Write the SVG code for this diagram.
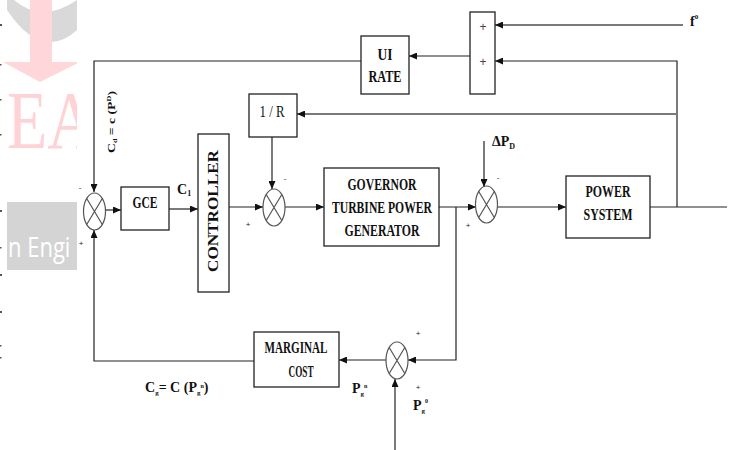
<svg xmlns="http://www.w3.org/2000/svg" width="734" height="450" viewBox="0 0 734 450">
<style>
.box{fill:#fff;stroke:#222;stroke-width:1.3}
.ln{fill:none;stroke:#222;stroke-width:1.2}
.gl{fill:none;stroke:#7a7a7a;stroke-width:2}
.sj{fill:none;stroke:#555;stroke-width:1.2}
.t{font-family:"Liberation Serif","Times New Roman",serif;font-weight:bold;font-size:17px;fill:#111}
.lab{font-family:"Liberation Serif","Times New Roman",serif;font-weight:bold;font-size:14px;fill:#111}
.sg{font-family:"Liberation Sans",Arial,sans-serif;font-size:8px;fill:#222;text-anchor:middle}
.sb{font-family:"Liberation Sans",Arial,sans-serif;font-size:12px;fill:#5a3a3a;text-anchor:middle}
</style>
<defs>
<marker id="ar" markerUnits="userSpaceOnUse" markerWidth="8" markerHeight="7" refX="8" refY="3.5" orient="auto">
<path d="M0,0 L8,3.5 L0,7 z" fill="#111"/>
</marker>
<clipPath id="wm"><rect x="0" y="0" width="77" height="280"/></clipPath>
<g id="sumx">
<ellipse cx="0" cy="0" rx="11" ry="18.5" class="sj"/>
<path d="M-7.8,-13 L7.8,13 M7.8,-13 L-7.8,13" class="sj"/>
</g>
</defs>
<rect width="734" height="450" fill="#fff"/>

<g id="watermark" clip-path="url(#wm)">
<path d="M7,0 L7,10 Q42,62 77,30 L77,0 Q42,24 14,0 Z" fill="#d9d9d9"/>
<rect x="30" y="0" width="22" height="64" fill="#ffd6d9"/>
<polygon points="3,62 80,62 40,82" fill="#ffd6d9"/>
<text x="7" y="148" font-family="Liberation Serif,serif" font-size="82" fill="#ffd3d6" textLength="88" lengthAdjust="spacingAndGlyphs">EA</text>
<rect x="7" y="202" width="75" height="68" fill="#d4d4d4"/>
<text transform="translate(8,257) scale(1,1.2)" x="0" y="0" font-family="Open Sans,Liberation Sans,sans-serif" font-size="22" fill="#fff">n Engi</text>
</g>
<g id="edge-marks" fill="#555">
<rect x="0" y="24" width="2" height="2"/><rect x="0" y="64" width="1.5" height="1.5"/><rect x="0" y="99" width="1.5" height="1.5"/>
<rect x="0" y="134" width="1.5" height="1.5"/><rect x="0" y="210" width="2" height="2"/><rect x="0" y="247" width="1.5" height="1.5"/>
<rect x="0" y="274" width="2" height="2"/><rect x="0" y="311" width="2" height="2"/><rect x="0" y="345" width="1.5" height="1.5"/>
<rect x="0" y="357" width="1.5" height="1.5"/>
</g>

<g id="connectors">
<path class="ln" d="M677,207 L677,61 L495,61" marker-end="url(#ar)"/>
<path class="gl" d="M683,25 L495,25" marker-end="url(#ar)"/>
<path class="ln" d="M470,56 L409,56" marker-end="url(#ar)"/>
<path class="ln" d="M361,61 L94,61 L94,192" marker-end="url(#ar)"/>
<path class="gl" d="M677,114 L297,114" marker-end="url(#ar)"/>
<path class="ln" d="M272,137 L272,189" marker-end="url(#ar)"/>
<path class="ln" d="M106,210 L121,210" marker-end="url(#ar)"/>
<path class="ln" d="M169,209 L198,209" marker-end="url(#ar)"/>
<path class="ln" d="M229,207 L263,207" marker-end="url(#ar)"/>
<path class="ln" d="M285,207 L324,207" marker-end="url(#ar)"/>
<path class="ln" d="M439,207 L476,207" marker-end="url(#ar)"/>
<path class="ln" d="M484,141 L484,187" marker-end="url(#ar)"/>
<path class="ln" d="M497,207 L566,207" marker-end="url(#ar)"/>
<path class="ln" d="M650,207 L727,207"/>
<path class="ln" d="M456,207 L456,360 L408,360" marker-end="url(#ar)"/>
<path class="gl" d="M395,450 L395,379" marker-end="url(#ar)"/>
<path class="ln" d="M386,360 L339,360" marker-end="url(#ar)"/>
<path class="ln" d="M254,361 L94,361 L94,230" marker-end="url(#ar)"/>
</g>

<g id="sum-box">
<rect class="box" x="470" y="12" width="25" height="82"/>
<text class="sb" x="483" y="31">+</text>
<text class="sb" x="483" y="66">+</text>
</g>
<g id="ui-rate">
<rect class="box" x="361" y="36" width="48" height="58"/>
<text class="t" x="385" y="60" text-anchor="middle" textLength="15" lengthAdjust="spacingAndGlyphs">UI</text>
<text class="t" x="385" y="82" text-anchor="middle" textLength="33" lengthAdjust="spacingAndGlyphs">RATE</text>
</g>
<g id="inv-r">
<rect class="box" x="249" y="94" width="48" height="43"/>
<text x="272" y="117" text-anchor="middle" font-family="Liberation Serif,serif" font-size="17" fill="#111" textLength="25" lengthAdjust="spacingAndGlyphs">1 / R</text>
</g>
<g id="gce">
<rect class="box" x="121" y="187" width="48" height="43"/>
<text class="t" x="145" y="208" text-anchor="middle" textLength="25" lengthAdjust="spacingAndGlyphs">GCE</text>
</g>
<g id="controller">
<rect class="box" x="198" y="134" width="31" height="158"/>
<text class="t" transform="translate(218,211) rotate(-90)" x="0" y="0" text-anchor="middle" style="font-size:14px" textLength="122" lengthAdjust="spacingAndGlyphs">CONTROLLER</text>
</g>
<g id="governor">
<rect class="box" x="324" y="168" width="115" height="78"/>
<text class="t" x="382" y="190" text-anchor="middle" textLength="69" lengthAdjust="spacingAndGlyphs">GOVERNOR</text>
<text class="t" x="382" y="213" text-anchor="middle" textLength="100" lengthAdjust="spacingAndGlyphs">TURBINE POWER</text>
<text class="t" x="382" y="236" text-anchor="middle" textLength="75" lengthAdjust="spacingAndGlyphs">GENERATOR</text>
</g>
<g id="power-system">
<rect class="box" x="566" y="176" width="84" height="62"/>
<text class="t" x="608" y="197" text-anchor="middle" textLength="45" lengthAdjust="spacingAndGlyphs">POWER</text>
<text class="t" x="608" y="220" text-anchor="middle" textLength="49" lengthAdjust="spacingAndGlyphs">SYSTEM</text>
</g>
<g id="marginal-cost">
<rect class="box" x="254" y="332" width="85" height="55"/>
<text class="t" x="296" y="353" text-anchor="middle" textLength="63" lengthAdjust="spacingAndGlyphs">MARGINAL</text>
<text class="t" x="301" y="377" text-anchor="middle" textLength="25" lengthAdjust="spacingAndGlyphs">COST</text>
</g>

<g id="sum1"><use href="#sumx" x="94.5" y="211.5"/>
<text class="sg" x="80" y="190">-</text><text class="sg" x="81" y="246">+</text></g>
<g id="sum2"><use href="#sumx" x="274" y="207.5"/>
<text class="sg" x="285" y="181">-</text><text class="sg" x="248" y="227">+</text></g>
<g id="sum3"><use href="#sumx" x="486.5" y="204.5"/>
<text class="sg" x="498" y="180">-</text><text class="sg" x="468" y="228">+</text></g>
<g id="sum4"><use href="#sumx" x="397" y="360.5"/>
<text class="sg" x="418" y="336">+</text><text class="sg" x="418" y="390">+</text></g>

<g id="labels">
<text class="lab" x="177" y="194">C<tspan font-size="8" dy="2">1</tspan></text>
<text class="lab" x="492" y="146">ΔP<tspan font-size="8" dy="3">D</tspan></text>
<text class="lab" x="690" y="26" fill="#1a2a3a">f<tspan font-size="7" dy="-7">0</tspan></text>
<text class="lab" x="145" y="392">C<tspan font-size="7" dy="3">g</tspan><tspan dy="-3">= C (P</tspan><tspan font-size="7" dy="3">g</tspan><tspan font-size="6" dy="-7">n</tspan><tspan dy="4">)</tspan></text>
<text class="lab" x="352" y="393">P<tspan font-size="7" dy="3">g</tspan><tspan font-size="6" dy="-8">n</tspan></text>
<text class="lab" x="413" y="410">P<tspan font-size="7" dy="3">g</tspan><tspan font-size="6" dy="-10">0</tspan></text>
<text class="lab" transform="translate(115,153) rotate(-90)" x="0" y="0" style="font-size:10px" textLength="62" lengthAdjust="spacingAndGlyphs">C<tspan font-size="6" dy="2">d</tspan><tspan dy="-2"> = c (P</tspan><tspan font-size="6" dy="-4">D</tspan><tspan dy="4">)</tspan></text>
</g>
</svg>
